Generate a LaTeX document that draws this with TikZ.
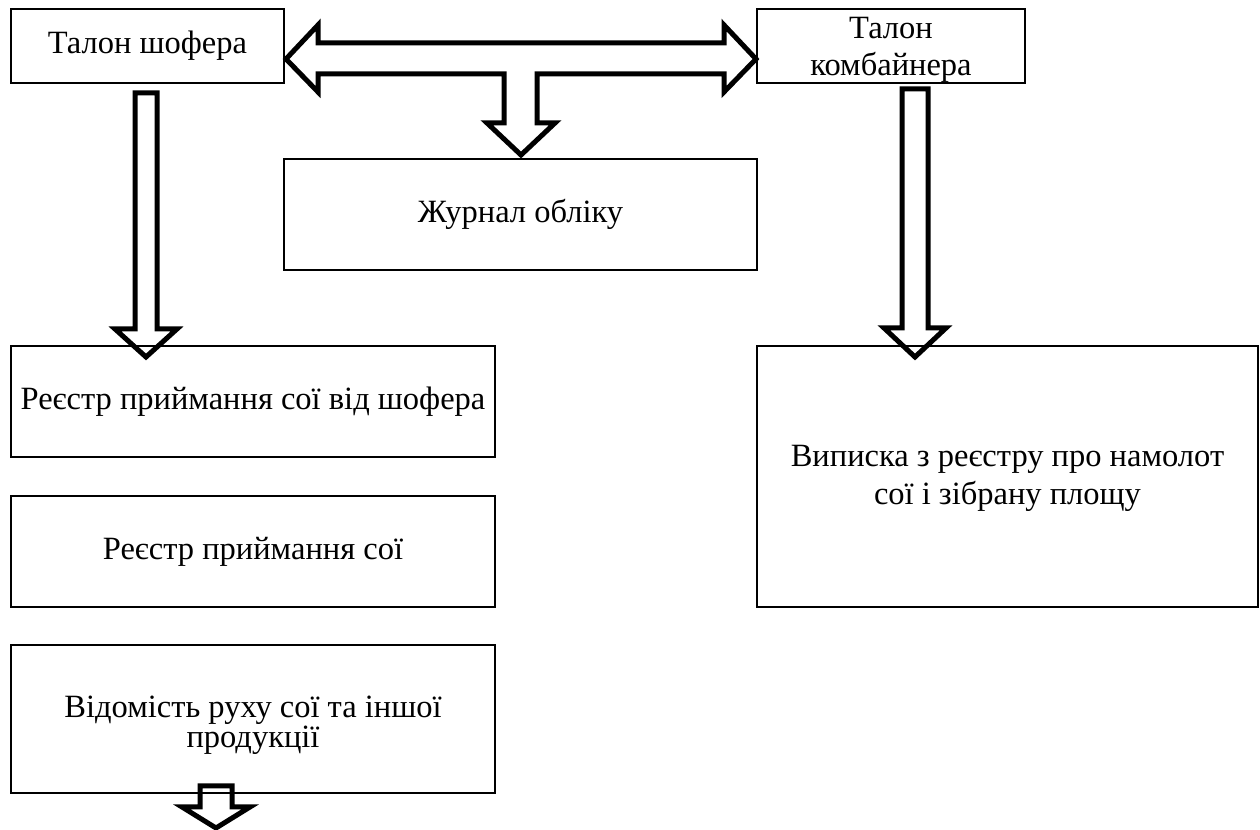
\documentclass[tikz,border=0pt]{standalone}
\usepackage{fontspec}
\setmainfont{Liberation Serif}
\usetikzlibrary{calc}

\begin{document}
\begin{tikzpicture}[x=0.4pt,y=0.4pt,yscale=-1,xscale=1,
  doc/.style={draw, line width=1.1pt, inner sep=0pt, align=center, font=\fontsize{13}{15}\selectfont},
  blockarrow/.style={draw, line width=2pt, line join=miter}]
\useasboundingbox (0,0) rectangle (1260,830);

% Boxes
\node [doc, minimum width=109.2pt, minimum height=29.6pt] (shofer) at (147.5,46) {Талон шофера};
\node [doc, minimum width=107.2pt, minimum height=29.6pt] (kombain) at (891,46) {\rule{0pt}{11.5pt}Талон\\комбайнера};
\node [doc, minimum width=189.2pt, minimum height=44.4pt] (zhurnal) at (520.5,214.5) {Журнал обліку};
\node [doc, minimum width=193.6pt, minimum height=44.4pt] (reestrvid) at (253,401.5) {Реєстр приймання сої від шофера};
\node [doc, minimum width=193.6pt, minimum height=44.4pt] (reestr) at (253,551.5) {Реєстр приймання сої};
\node [doc, minimum width=193.6pt, minimum height=59.2pt, font=\fontsize{13}{12}\selectfont] (vidomist) at (253,719) {\rule{0pt}{14pt}Відомість руху сої та іншої\\продукції};
\node [doc, minimum width=200.4pt, minimum height=104.4pt] (vypyska) at (1007.5,476.5) {\rule{0pt}{10pt}Виписка з реєстру про намолот\\сої і зібрану площу};

% Arrow ends
\coordinate (tl) at (286,59);
\coordinate (tr) at (756,59);
\coordinate (td) at (521,155);
\coordinate (lefttop) at (146,93);
\coordinate (lefttip) at (146,357);
\coordinate (righttop) at (915,89);
\coordinate (righttip) at (915,357);
\coordinate (bottop) at (216,786);
\coordinate (bottip) at (216,828);

%Double arrow with stem to journal
\draw [blockarrow] (tl) -- ++(32,-34) -- ++(0,18) -- ($(tr)+(-32,-16)$) -- ++(0,-18) -- (tr) -- ++(-32,33) -- ++(0,-18)
  -- ($(td)+(16,-81)$) -- ++(0,49) -- ++(18,0) -- (td) -- ++(-34,-32) -- ++(17,0) -- ++(0,-49)
  -- ($(tl)+(32,15)$) -- ++(0,18) -- cycle;

%Left down arrow
\draw [blockarrow] ($(lefttop)+(-11,0)$) -- ($(lefttip)+(-11,-28)$) -- ++(-20,0) -- (lefttip) -- ($(lefttip)+(31,-28)$) -- ++(-20,0) -- ($(lefttop)+(11,0)$) -- cycle;

%Right down arrow
\draw [blockarrow] ($(righttop)+(-13,0)$) -- ($(righttip)+(-13,-29)$) -- ++(-18,0) -- (righttip) -- ($(righttip)+(31,-29)$) -- ++(-18,0) -- ($(righttop)+(13,0)$) -- cycle;

%Bottom arrow
\draw [blockarrow] ($(bottop)+(-16,0)$) -- ($(bottip)+(-16,-21)$) -- ++(-18,0) -- (bottip) -- ($(bottip)+(34,-21)$) -- ++(-18,0) -- ($(bottop)+(16,0)$) -- cycle;

\end{tikzpicture}
\end{document}
